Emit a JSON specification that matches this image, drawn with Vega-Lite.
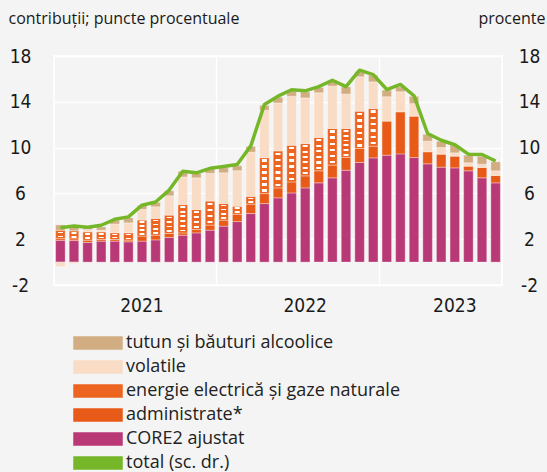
{
  "$schema": "https://vega.github.io/schema/vega-lite/v6.json",
  "width": 448,
  "height": 229,
  "autosize": {"type": "none"},
  "padding": {"left": 54, "top": 56, "right": 45, "bottom": 187},
  "background": "#f4f4f4",
  "config": {
    "view": {"stroke": "white", "strokeWidth": 1.5, "fill": "#f4f4f4"},
    "axis": {"labelColor": "#1a1a1a", "titleColor": "#1a1a1a"}
  },
  "datasets": {
    "bars": [
      {"m": "2021-01", "cat": "CORE2 ajustat", "v": 1.9}, {"m": "2021-01", "cat": "administrate*", "v": 0.15}, {"m": "2021-01", "cat": "energie electrică și gaze naturale", "v": 0.73}, {"m": "2021-01", "cat": "volatile", "v": -0.4}, {"m": "2021-01", "cat": "tutun și băuturi alcoolice", "v": 0.47},
      {"m": "2021-02", "cat": "CORE2 ajustat", "v": 1.88}, {"m": "2021-02", "cat": "administrate*", "v": 0.15}, {"m": "2021-02", "cat": "energie electrică și gaze naturale", "v": 0.7}, {"m": "2021-02", "cat": "volatile", "v": -0.12}, {"m": "2021-02", "cat": "tutun și băuturi alcoolice", "v": 0.3},
      {"m": "2021-03", "cat": "CORE2 ajustat", "v": 1.71}, {"m": "2021-03", "cat": "administrate*", "v": 0.2}, {"m": "2021-03", "cat": "energie electrică și gaze naturale", "v": 0.73}, {"m": "2021-03", "cat": "volatile", "v": 0.2}, {"m": "2021-03", "cat": "tutun și băuturi alcoolice", "v": 0.17},
      {"m": "2021-04", "cat": "CORE2 ajustat", "v": 1.83}, {"m": "2021-04", "cat": "administrate*", "v": 0.15}, {"m": "2021-04", "cat": "energie electrică și gaze naturale", "v": 0.66}, {"m": "2021-04", "cat": "volatile", "v": 0.15}, {"m": "2021-04", "cat": "tutun și băuturi alcoolice", "v": 0.28},
      {"m": "2021-05", "cat": "CORE2 ajustat", "v": 1.83}, {"m": "2021-05", "cat": "administrate*", "v": 0.15}, {"m": "2021-05", "cat": "energie electrică și gaze naturale", "v": 0.58}, {"m": "2021-05", "cat": "volatile", "v": 0.76}, {"m": "2021-05", "cat": "tutun și băuturi alcoolice", "v": 0.35},
      {"m": "2021-06", "cat": "CORE2 ajustat", "v": 1.77}, {"m": "2021-06", "cat": "administrate*", "v": 0.15}, {"m": "2021-06", "cat": "energie electrică și gaze naturale", "v": 0.64}, {"m": "2021-06", "cat": "volatile", "v": 0.87}, {"m": "2021-06", "cat": "tutun și băuturi alcoolice", "v": 0.44},
      {"m": "2021-07", "cat": "CORE2 ajustat", "v": 1.83}, {"m": "2021-07", "cat": "administrate*", "v": 0.44}, {"m": "2021-07", "cat": "energie electrică și gaze naturale", "v": 1.4}, {"m": "2021-07", "cat": "volatile", "v": 0.93}, {"m": "2021-07", "cat": "tutun și băuturi alcoolice", "v": 0.35},
      {"m": "2021-08", "cat": "CORE2 ajustat", "v": 1.94}, {"m": "2021-08", "cat": "administrate*", "v": 0.41}, {"m": "2021-08", "cat": "energie electrică și gaze naturale", "v": 1.46}, {"m": "2021-08", "cat": "volatile", "v": 1.02}, {"m": "2021-08", "cat": "tutun și băuturi alcoolice", "v": 0.38},
      {"m": "2021-09", "cat": "CORE2 ajustat", "v": 2.15}, {"m": "2021-09", "cat": "administrate*", "v": 0.35}, {"m": "2021-09", "cat": "energie electrică și gaze naturale", "v": 1.6}, {"m": "2021-09", "cat": "volatile", "v": 1.69}, {"m": "2021-09", "cat": "tutun și băuturi alcoolice", "v": 0.44},
      {"m": "2021-10", "cat": "CORE2 ajustat", "v": 2.35}, {"m": "2021-10", "cat": "administrate*", "v": 0.2}, {"m": "2021-10", "cat": "energie electrică și gaze naturale", "v": 2.47}, {"m": "2021-10", "cat": "volatile", "v": 2.42}, {"m": "2021-10", "cat": "tutun și băuturi alcoolice", "v": 0.5},
      {"m": "2021-11", "cat": "CORE2 ajustat", "v": 2.55}, {"m": "2021-11", "cat": "administrate*", "v": 0.29}, {"m": "2021-11", "cat": "energie electrică și gaze naturale", "v": 1.75}, {"m": "2021-11", "cat": "volatile", "v": 2.77}, {"m": "2021-11", "cat": "tutun și băuturi alcoolice", "v": 0.38},
      {"m": "2021-12", "cat": "CORE2 ajustat", "v": 2.79}, {"m": "2021-12", "cat": "administrate*", "v": 0.44}, {"m": "2021-12", "cat": "energie electrică și gaze naturale", "v": 2.1}, {"m": "2021-12", "cat": "volatile", "v": 2.42}, {"m": "2021-12", "cat": "tutun și băuturi alcoolice", "v": 0.44},
      {"m": "2022-01", "cat": "CORE2 ajustat", "v": 3.14}, {"m": "2022-01", "cat": "administrate*", "v": 0.52}, {"m": "2022-01", "cat": "energie electrică și gaze naturale", "v": 1.46}, {"m": "2022-01", "cat": "volatile", "v": 2.68}, {"m": "2022-01", "cat": "tutun și băuturi alcoolice", "v": 0.44},
      {"m": "2022-02", "cat": "CORE2 ajustat", "v": 3.54}, {"m": "2022-02", "cat": "administrate*", "v": 0.64}, {"m": "2022-02", "cat": "energie electrică și gaze naturale", "v": 0.7}, {"m": "2022-02", "cat": "volatile", "v": 3.1}, {"m": "2022-02", "cat": "tutun și băuturi alcoolice", "v": 0.44},
      {"m": "2022-03", "cat": "CORE2 ajustat", "v": 4.24}, {"m": "2022-03", "cat": "administrate*", "v": 0.82}, {"m": "2022-03", "cat": "energie electrică și gaze naturale", "v": 0.68}, {"m": "2022-03", "cat": "volatile", "v": 3.86}, {"m": "2022-03", "cat": "tutun și băuturi alcoolice", "v": 0.5},
      {"m": "2022-04", "cat": "CORE2 ajustat", "v": 5.11}, {"m": "2022-04", "cat": "administrate*", "v": 0.87}, {"m": "2022-04", "cat": "energie electrică și gaze naturale", "v": 3.14}, {"m": "2022-04", "cat": "volatile", "v": 4.13}, {"m": "2022-04", "cat": "tutun și băuturi alcoolice", "v": 0.44},
      {"m": "2022-05", "cat": "CORE2 ajustat", "v": 5.61}, {"m": "2022-05", "cat": "administrate*", "v": 0.87}, {"m": "2022-05", "cat": "energie electrică și gaze naturale", "v": 3.23}, {"m": "2022-05", "cat": "volatile", "v": 4.19}, {"m": "2022-05", "cat": "tutun și băuturi alcoolice", "v": 0.5},
      {"m": "2022-06", "cat": "CORE2 ajustat", "v": 6.04}, {"m": "2022-06", "cat": "administrate*", "v": 0.96}, {"m": "2022-06", "cat": "energie electrică și gaze naturale", "v": 3.2}, {"m": "2022-06", "cat": "volatile", "v": 4.28}, {"m": "2022-06", "cat": "tutun și băuturi alcoolice", "v": 0.44},
      {"m": "2022-07", "cat": "CORE2 ajustat", "v": 6.48}, {"m": "2022-07", "cat": "administrate*", "v": 1.05}, {"m": "2022-07", "cat": "energie electrică și gaze naturale", "v": 2.82}, {"m": "2022-07", "cat": "volatile", "v": 3.99}, {"m": "2022-07", "cat": "tutun și băuturi alcoolice", "v": 0.52},
      {"m": "2022-08", "cat": "CORE2 ajustat", "v": 6.92}, {"m": "2022-08", "cat": "administrate*", "v": 1.05}, {"m": "2022-08", "cat": "energie electrică și gaze naturale", "v": 2.91}, {"m": "2022-08", "cat": "volatile", "v": 3.9}, {"m": "2022-08", "cat": "tutun și băuturi alcoolice", "v": 0.47},
      {"m": "2022-09", "cat": "CORE2 ajustat", "v": 7.36}, {"m": "2022-09", "cat": "administrate*", "v": 1.11}, {"m": "2022-09", "cat": "energie electrică și gaze naturale", "v": 3.2}, {"m": "2022-09", "cat": "volatile", "v": 3.7}, {"m": "2022-09", "cat": "tutun și băuturi alcoolice", "v": 0.47},
      {"m": "2022-10", "cat": "CORE2 ajustat", "v": 8.03}, {"m": "2022-10", "cat": "administrate*", "v": 1.11}, {"m": "2022-10", "cat": "energie electrică și gaze naturale", "v": 2.53}, {"m": "2022-10", "cat": "volatile", "v": 3.0}, {"m": "2022-10", "cat": "tutun și băuturi alcoolice", "v": 0.64},
      {"m": "2022-11", "cat": "CORE2 ajustat", "v": 8.7}, {"m": "2022-11", "cat": "administrate*", "v": 1.22}, {"m": "2022-11", "cat": "energie electrică și gaze naturale", "v": 3.26}, {"m": "2022-11", "cat": "volatile", "v": 3.0}, {"m": "2022-11", "cat": "tutun și băuturi alcoolice", "v": 0.44},
      {"m": "2022-12", "cat": "CORE2 ajustat", "v": 9.1}, {"m": "2022-12", "cat": "administrate*", "v": 1.02}, {"m": "2022-12", "cat": "energie electrică și gaze naturale", "v": 3.29}, {"m": "2022-12", "cat": "volatile", "v": 2.33}, {"m": "2022-12", "cat": "tutun și băuturi alcoolice", "v": 0.58},
      {"m": "2023-01", "cat": "CORE2 ajustat", "v": 9.34}, {"m": "2023-01", "cat": "administrate*", "v": 2.97}, {"m": "2023-01", "cat": "volatile", "v": 2.13}, {"m": "2023-01", "cat": "tutun și băuturi alcoolice", "v": 0.58},
      {"m": "2023-02", "cat": "CORE2 ajustat", "v": 9.45}, {"m": "2023-02", "cat": "administrate*", "v": 3.67}, {"m": "2023-02", "cat": "volatile", "v": 1.75}, {"m": "2023-02", "cat": "tutun și băuturi alcoolice", "v": 0.43},
      {"m": "2023-03", "cat": "CORE2 ajustat", "v": 9.13}, {"m": "2023-03", "cat": "administrate*", "v": 3.61}, {"m": "2023-03", "cat": "volatile", "v": 1.1}, {"m": "2023-03", "cat": "tutun și băuturi alcoolice", "v": 0.64},
      {"m": "2023-04", "cat": "CORE2 ajustat", "v": 8.58}, {"m": "2023-04", "cat": "administrate*", "v": 1.05}, {"m": "2023-04", "cat": "volatile", "v": 0.93}, {"m": "2023-04", "cat": "tutun și băuturi alcoolice", "v": 0.61},
      {"m": "2023-05", "cat": "CORE2 ajustat", "v": 8.29}, {"m": "2023-05", "cat": "administrate*", "v": 1.14}, {"m": "2023-05", "cat": "volatile", "v": 0.58}, {"m": "2023-05", "cat": "tutun și băuturi alcoolice", "v": 0.55},
      {"m": "2023-06", "cat": "CORE2 ajustat", "v": 8.23}, {"m": "2023-06", "cat": "administrate*", "v": 1.02}, {"m": "2023-06", "cat": "volatile", "v": 0.29}, {"m": "2023-06", "cat": "tutun și băuturi alcoolice", "v": 0.67},
      {"m": "2023-07", "cat": "CORE2 ajustat", "v": 7.97}, {"m": "2023-07", "cat": "administrate*", "v": 0.41}, {"m": "2023-07", "cat": "volatile", "v": 0.29}, {"m": "2023-07", "cat": "tutun și băuturi alcoolice", "v": 0.67},
      {"m": "2023-08", "cat": "CORE2 ajustat", "v": 7.36}, {"m": "2023-08", "cat": "administrate*", "v": 0.9}, {"m": "2023-08", "cat": "volatile", "v": 0.29}, {"m": "2023-08", "cat": "tutun și băuturi alcoolice", "v": 0.7},
      {"m": "2023-09", "cat": "CORE2 ajustat", "v": 6.92}, {"m": "2023-09", "cat": "administrate*", "v": 0.64}, {"m": "2023-09", "cat": "volatile", "v": 0.41}, {"m": "2023-09", "cat": "tutun și băuturi alcoolice", "v": 0.79}
    ],
    "total": [
      {"m": "2021-01", "total": 3.0}, {"m": "2021-02", "total": 3.16}, {"m": "2021-03", "total": 3.05}, {"m": "2021-04", "total": 3.22},
      {"m": "2021-05", "total": 3.74}, {"m": "2021-06", "total": 3.95}, {"m": "2021-07", "total": 4.97}, {"m": "2021-08", "total": 5.25},
      {"m": "2021-09", "total": 6.29}, {"m": "2021-10", "total": 7.94}, {"m": "2021-11", "total": 7.8}, {"m": "2021-12", "total": 8.19},
      {"m": "2022-01", "total": 8.35}, {"m": "2022-02", "total": 8.53}, {"m": "2022-03", "total": 10.15}, {"m": "2022-04", "total": 13.76},
      {"m": "2022-05", "total": 14.49}, {"m": "2022-06", "total": 15.05}, {"m": "2022-07", "total": 14.96}, {"m": "2022-08", "total": 15.32},
      {"m": "2022-09", "total": 15.88}, {"m": "2022-10", "total": 15.32}, {"m": "2022-11", "total": 16.76}, {"m": "2022-12", "total": 16.37},
      {"m": "2023-01", "total": 15.07}, {"m": "2023-02", "total": 15.52}, {"m": "2023-03", "total": 14.53}, {"m": "2023-04", "total": 11.23},
      {"m": "2023-05", "total": 10.64}, {"m": "2023-06", "total": 10.25}, {"m": "2023-07", "total": 9.43}, {"m": "2023-08", "total": 9.4},
      {"m": "2023-09", "total": 8.83}
    ]
  },
  "resolve": {"scale": {"y": "independent"}, "axis": {"y": "independent"}},
  "layer": [
    {
      "data": {"name": "bars"},
      "transform": [{"window": [{"op": "row_number", "as": "k"}], "groupby": ["m"]}],
      "mark": {"type": "bar", "stroke": "white", "strokeWidth": 0.6, "strokeOpacity": 0.55},
      "encoding": {
        "x": {
          "field": "m", "type": "ordinal",
          "scale": {"paddingInner": 0.3, "paddingOuter": 0.12},
          "axis": {
            "title": null, "labelAngle": 0, "ticks": false, "domain": false,
            "bandPosition": -0.22,
            "labelExpr": "((slice(datum.value,5)=='07' && slice(datum.value,0,4)!='2023') || datum.value=='2023-06') ? slice(datum.value,0,4) : ''",
            "labelFont": "Liberation Sans Narrow, DejaVu Sans Condensed, sans-serif",
            "labelFontSize": 19, "labelPadding": 11, "labelOverlap": false, "labelBound": false, "labelFlush": false,
            "grid": true, "gridColor": "white", "gridWidth": 1.5,
            "gridOpacity": {"condition": {"test": "slice(datum.value,5)=='01' && datum.value!='2021-01'", "value": 1}, "value": 0}
          }
        },
        "y": {
          "field": "v", "type": "quantitative",
          "scale": {"domain": [-2, 18], "nice": false, "zero": false},
          "axis": {
            "values": [-2, 2, 6, 10, 14, 18],
            "labelExpr": "replace(datum.label, '−', '-')",
            "title": "contribuții; puncte procentuale",
            "titleAngle": 0, "titleAlign": "left", "titleBaseline": "alphabetic",
            "titleX": -46, "titleY": -33,
            "titleFont": "Open Sans", "titleFontSize": 16, "titleFontWeight": "normal",
            "labelFont": "Liberation Sans Narrow, DejaVu Sans Condensed, sans-serif",
            "labelFontSize": 19, "labelAlign": "center", "labelPadding": 34,
            "labelFlush": false, "labelOverlap": false,
            "ticks": false, "domain": false,
            "grid": true, "gridColor": "white", "gridWidth": 1.5
          }
        },
        "order": {"field": "k", "type": "quantitative"},
        "color": {
          "field": "cat", "type": "nominal",
          "scale": {
            "domain": ["tutun și băuturi alcoolice", "volatile", "energie electrică și gaze naturale", "administrate*", "CORE2 ajustat", "total (sc. dr.)"],
            "range": ["#d3ad82", "#f8dcc6", "#ec6420", "#e85a17", "#b93876", "#76b72a"]
          },
          "legend": {
            "orient": "none", "legendX": 35, "legendY": 278, "title": null, "padding": 0,
            "labelFont": "Open Sans", "labelFontSize": 18, "labelColor": "#222", "labelOffset": 19, "labelLimit": 400,
            "symbolSize": 144, "rowPadding": 6, "symbolType": "M-4,-1H4V1H-4Z",
            "encode": {
              "symbols": {
                "update": {
                  "shape": [
                    {"test": "datum.value === 'total (sc. dr.)'", "value": "M-4,0H4"},
                    {"value": "M-4,-1H4V1H-4Z"}
                  ],
                  "fill": [
                    {"test": "datum.value === 'total (sc. dr.)'", "value": "transparent"},
                    {"test": "indexof(datum.value, 'energie') === 0", "value": {"gradient": "linear", "x1": 0, "y1": 0, "x2": 0, "y2": 1, "stops": [
                      {"offset": 0, "color": "#ec6420"}, {"offset": 0.22, "color": "#ec6420"}, {"offset": 0.22, "color": "#ffffff"}, {"offset": 0.38, "color": "#ffffff"}, {"offset": 0.38, "color": "#ec6420"},
                      {"offset": 0.62, "color": "#ec6420"}, {"offset": 0.62, "color": "#ffffff"}, {"offset": 0.78, "color": "#ffffff"}, {"offset": 0.78, "color": "#ec6420"}, {"offset": 1, "color": "#ec6420"}]}},
                    {"scale": "color", "field": "value"}
                  ],
                  "stroke": [
                    {"test": "datum.value === 'total (sc. dr.)'", "value": "#76b72a"},
                    {"value": "transparent"}
                  ],
                  "strokeWidth": [
                    {"test": "datum.value === 'total (sc. dr.)'", "value": 3.5},
                    {"value": 0}
                  ],
                  "opacity": {"value": 1},
                  "fillOpacity": {"value": 1},
                  "strokeOpacity": {"value": 1}
                }
              }
            }
          }
        }
      }
    },
    {
      "data": {"name": "bars"},
      "transform": [{"window": [{"op": "row_number", "as": "k"}], "groupby": ["m"]}],
      "mark": {"type": "bar", "width": 5, "strokeWidth": 0},
      "encoding": {
        "x": {"field": "m", "type": "ordinal"},
        "y": {"field": "v", "type": "quantitative", "scale": {"domain": [-2, 18], "nice": false, "zero": false}, "axis": null},
        "order": {"field": "k", "type": "quantitative"},
        "detail": {"field": "cat", "type": "nominal"},
        "fill": {
          "condition": [
            {"test": "datum.cat === 'energie electrică și gaze naturale' && datum.v < 1.1", "value": {"gradient": "linear", "x1": 0, "y1": 0, "x2": 0, "y2": 1, "stops": [
              {"offset": 0, "color": "rgba(255,255,255,0)"}, {"offset": 0.15, "color": "rgba(255,255,255,0)"}, {"offset": 0.15, "color": "#ffffff"}, {"offset": 0.35, "color": "#ffffff"}, {"offset": 0.35, "color": "rgba(255,255,255,0)"},
              {"offset": 0.65, "color": "rgba(255,255,255,0)"}, {"offset": 0.65, "color": "#ffffff"}, {"offset": 0.85, "color": "#ffffff"}, {"offset": 0.85, "color": "rgba(255,255,255,0)"}, {"offset": 1, "color": "rgba(255,255,255,0)"}]}},
            {"test": "datum.cat === 'energie electrică și gaze naturale' && datum.v < 2.2", "value": {"gradient": "linear", "x1": 0, "y1": 0, "x2": 0, "y2": 1, "stops": [
              {"offset": 0, "color": "rgba(255,255,255,0)"}, {"offset": 0.075, "color": "rgba(255,255,255,0)"}, {"offset": 0.075, "color": "#ffffff"}, {"offset": 0.17, "color": "#ffffff"}, {"offset": 0.17, "color": "rgba(255,255,255,0)"},
              {"offset": 0.325, "color": "rgba(255,255,255,0)"}, {"offset": 0.325, "color": "#ffffff"}, {"offset": 0.42, "color": "#ffffff"}, {"offset": 0.42, "color": "rgba(255,255,255,0)"},
              {"offset": 0.575, "color": "rgba(255,255,255,0)"}, {"offset": 0.575, "color": "#ffffff"}, {"offset": 0.67, "color": "#ffffff"}, {"offset": 0.67, "color": "rgba(255,255,255,0)"},
              {"offset": 0.825, "color": "rgba(255,255,255,0)"}, {"offset": 0.825, "color": "#ffffff"}, {"offset": 0.92, "color": "#ffffff"}, {"offset": 0.92, "color": "rgba(255,255,255,0)"}, {"offset": 1, "color": "rgba(255,255,255,0)"}]}},
            {"test": "datum.cat === 'energie electrică și gaze naturale'", "value": {"gradient": "linear", "x1": 0, "y1": 0, "x2": 0, "y2": 1, "stops": [
              {"offset": 0, "color": "rgba(255,255,255,0)"}, {"offset": 0.05, "color": "rgba(255,255,255,0)"}, {"offset": 0.05, "color": "#ffffff"}, {"offset": 0.113, "color": "#ffffff"}, {"offset": 0.113, "color": "rgba(255,255,255,0)"},
              {"offset": 0.217, "color": "rgba(255,255,255,0)"}, {"offset": 0.217, "color": "#ffffff"}, {"offset": 0.28, "color": "#ffffff"}, {"offset": 0.28, "color": "rgba(255,255,255,0)"},
              {"offset": 0.383, "color": "rgba(255,255,255,0)"}, {"offset": 0.383, "color": "#ffffff"}, {"offset": 0.447, "color": "#ffffff"}, {"offset": 0.447, "color": "rgba(255,255,255,0)"},
              {"offset": 0.55, "color": "rgba(255,255,255,0)"}, {"offset": 0.55, "color": "#ffffff"}, {"offset": 0.613, "color": "#ffffff"}, {"offset": 0.613, "color": "rgba(255,255,255,0)"},
              {"offset": 0.717, "color": "rgba(255,255,255,0)"}, {"offset": 0.717, "color": "#ffffff"}, {"offset": 0.78, "color": "#ffffff"}, {"offset": 0.78, "color": "rgba(255,255,255,0)"},
              {"offset": 0.883, "color": "rgba(255,255,255,0)"}, {"offset": 0.883, "color": "#ffffff"}, {"offset": 0.947, "color": "#ffffff"}, {"offset": 0.947, "color": "rgba(255,255,255,0)"}, {"offset": 1, "color": "rgba(255,255,255,0)"}]}}
          ],
          "value": "transparent"
        }
      }
    },
    {
      "data": {"name": "total"},
      "mark": {"type": "line", "strokeWidth": 3.5, "strokeJoin": "round"},
      "encoding": {
        "x": {"field": "m", "type": "ordinal"},
        "y": {
          "field": "total", "type": "quantitative",
          "scale": {"domain": [-2, 18], "nice": false, "zero": false},
          "axis": {
            "orient": "right",
            "values": [-2, 2, 6, 10, 14, 18],
            "labelExpr": "replace(datum.label, '−', '-')",
            "title": "procente",
            "titleAngle": 0, "titleAlign": "right", "titleBaseline": "alphabetic",
            "titleX": 43, "titleY": -33,
            "titleFont": "Open Sans", "titleFontSize": 16, "titleFontWeight": "normal",
            "labelFont": "Liberation Sans Narrow, DejaVu Sans Condensed, sans-serif",
            "labelFontSize": 19, "labelAlign": "center", "labelPadding": 27,
            "labelFlush": false, "labelOverlap": false,
            "ticks": false, "domain": false, "grid": false
          }
        },
        "color": {"datum": "total (sc. dr.)"}
      }
    }
  ]
}
